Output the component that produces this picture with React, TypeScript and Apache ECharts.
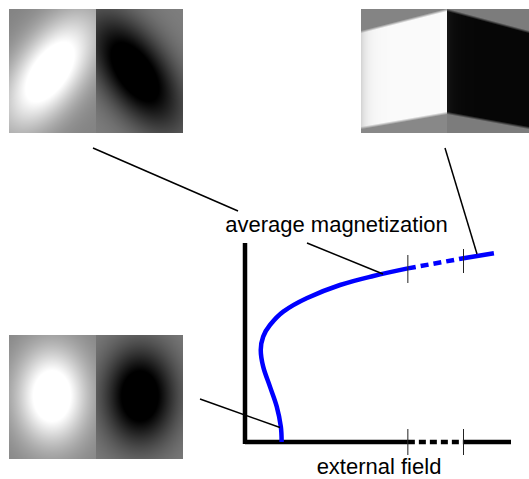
import React, { useEffect, useRef } from "react";
import * as echarts from "echarts";

// ---- data (field h, magnetization m) ----
const curveH = [1.35, 1.32, 1.17, 0.92, 0.67, 0.58, 0.67, 0.92, 1.41, 2.27, 3.5, 4.73, 6.0];
const curveM = [0.0, 0.77, 1.77, 2.77, 3.77, 4.6, 5.27, 5.85, 6.52, 7.19, 7.85, 8.3, 8.68];
const dashedH = [6.0, 8.05];
const dashedM = [8.68, 9.19];
const tailH = [8.05, 9.17];
const tailM = [9.19, 9.44];
const fieldBreaks = [6.0, 8.05];
const curveTickLow = [7.95, 8.45];
const curveTickHigh = [9.35, 9.65];
const axisTickHalf = 0.65;
const xAxisEnd = 9.8;
const yAxisEnd = 9.95;
const axisTitleY = "average magnetization";
const axisTitleX = "external field";

function makeImage(w: number, h: number, fn: (x: number, y: number) => number): string {
  const c = document.createElement("canvas");
  c.width = w;
  c.height = h;
  const ctx = c.getContext("2d")!;
  const id = ctx.createImageData(w, h);
  for (let y = 0; y < h; y++) {
    for (let x = 0; x < w; x++) {
      let v = Math.round(fn(x + 0.5, y + 0.5));
      v = Math.max(0, Math.min(255, v));
      const i = (y * w + x) * 4;
      id.data[i] = v;
      id.data[i + 1] = v;
      id.data[i + 2] = v;
      id.data[i + 3] = 255;
    }
  }
  ctx.putImageData(id, 0, 0);
  return c.toDataURL("image/png");
}

const clamp01 = (t: number) => Math.max(0, Math.min(1, t));

function img1(x: number, y: number) {
  const sa = 46, sb = 23, A = 165;
  if (x < 87) {
    const dx = x - 41, dy = y - 63;
    const a = dx * 0.574 - dy * 0.819;
    const b = dx * 0.819 + dy * 0.574;
    return 130 + A * Math.exp(-(a * a / (2 * sa * sa) + b * b / (2 * sb * sb)));
  } else {
    const dx = x - 126, dy = y - 63;
    const a = dx * 0.574 + dy * 0.819;
    const b = -dx * 0.819 + dy * 0.574;
    return 126 - A * Math.exp(-(a * a / (2 * sa * sa) + b * b / (2 * sb * sb)));
  }
}

function img3(x: number, y: number) {
  const sx = 25, sy = 34, A = 165;
  if (x < 87) {
    const dx = x - 43, dy = y - 61;
    return 130 + A * Math.exp(-(dx * dx / (2 * sx * sx) + dy * dy / (2 * sy * sy)));
  } else {
    const dx = x - 131, dy = y - 61;
    return 126 - A * Math.exp(-(dx * dx / (2 * sx * sx) + dy * dy / (2 * sy * sy)));
  }
}

function img2(x: number, y: number) {
  if (x < 86) {
    const yt = 23 - (22 * x) / 86;
    const yb = 119 - (15 * x) / 86;
    const s = clamp01((y - yt) / 3 + 0.5) * clamp01((yb - y) / 3 + 0.5);
    const inside = 250 - 40 * Math.exp(-x / 6);
    const out = y < yt + 5 ? 132 : 136;
    return out + (inside - out) * s;
  } else {
    const xr = x - 86;
    const yt = 1 + 0.268 * xr;
    const yb = 104 + (15 * xr) / 82;
    const s = clamp01((y - yt) / 3 + 0.5) * clamp01((yb - y) / 3 + 0.5);
    const inside = 6 + 14 * Math.exp(-xr / 8);
    const out = 124;
    return out + (inside - out) * s;
  }
}

export default function App() {
  const ref = useRef<HTMLDivElement>(null);
  useEffect(() => {
    if (!ref.current) return;
    const chart = echarts.init(ref.current, undefined, { renderer: "svg" });
    const u1 = makeImage(174, 124, img1);
    const u2 = makeImage(174, 124, img2);
    const u3 = makeImage(174, 124, img3);

    const font = "'Liberation Sans', Arial, Helvetica, sans-serif";
    const leader = (x1: number, y1: number, x2: number, y2: number) => ({
      type: "line",
      shape: { x1, y1, x2, y2 },
      style: { stroke: "#000", lineWidth: 1.5 },
      z: 10,
    });

    const black = { color: "#000", width: 4.5 };
    const thin = { color: "#222", width: 1 };
    const base = {
      type: "line",
      symbol: "none",
      clip: false,
      silent: true,
    };

    const series: any[] = [
      { ...base, data: [[0, -0.1], [0, yAxisEnd]], lineStyle: black },
      { ...base, data: [[0, 0], [fieldBreaks[0], 0]], lineStyle: black },
      { ...base, data: [[fieldBreaks[0], 0], [fieldBreaks[1], 0]], lineStyle: { ...black, type: [7, 4] } },
      { ...base, data: [[fieldBreaks[1], 0], [xAxisEnd, 0]], lineStyle: black },
      {
        ...base,
        data: curveH.map((h, i) => [h, curveM[i]]),
        smooth: 0.35,
        lineStyle: { color: "#0000ff", width: 4.5 },
      },
      {
        ...base,
        data: dashedH.map((h, i) => [h, dashedM[i]]),
        lineStyle: { color: "#0000ff", width: 4.5, type: [8, 5] },
      },
      {
        ...base,
        data: tailH.map((h, i) => [h, tailM[i]]),
        lineStyle: { color: "#0000ff", width: 4.5 },
      },
    ];
    fieldBreaks.forEach((b, i) => {
      series.push({ ...base, data: [[b, -axisTickHalf], [b, axisTickHalf]], lineStyle: thin, z: 5 });
      series.push({ ...base, data: [[b, curveTickLow[i]], [b, curveTickHigh[i]]], lineStyle: thin, z: 5 });
    });

    chart.setOption({
      animation: false,
      grid: { left: 245, top: 242, width: 266, height: 200 },
      xAxis: { type: "value", min: 0, max: xAxisEnd, show: false },
      yAxis: { type: "value", min: 0, max: 10, show: false },
      series,
      graphic: [
        { type: "image", x: 9, y: 9, style: { image: u1, width: 174, height: 124 } },
        { type: "image", x: 361, y: 9, style: { image: u2, width: 174, height: 124 } },
        { type: "image", x: 9, y: 335, style: { image: u3, width: 174, height: 124 } },
        leader(93, 148, 238, 211),
        leader(445, 148, 477, 254),
        leader(307, 243, 383, 274),
        leader(200, 399, 280, 427.5),
        {
          type: "text",
          x: 336.5,
          y: 224,
          style: {
            text: axisTitleY,
            fontSize: 22,
            fontFamily: font,
            fill: "#000",
            align: "center",
            verticalAlign: "middle",
          },
        },
        {
          type: "text",
          x: 379,
          y: 466,
          style: {
            text: axisTitleX,
            fontSize: 22,
            fontFamily: font,
            fill: "#000",
            align: "center",
            verticalAlign: "middle",
          },
        },
      ],
    });
    return () => chart.dispose();
  }, []);
  return (
    <div
      ref={ref}
      style={{ position: "fixed", left: 0, top: 0, width: 529, height: 479, background: "#fff" }}
    />
  );
}
